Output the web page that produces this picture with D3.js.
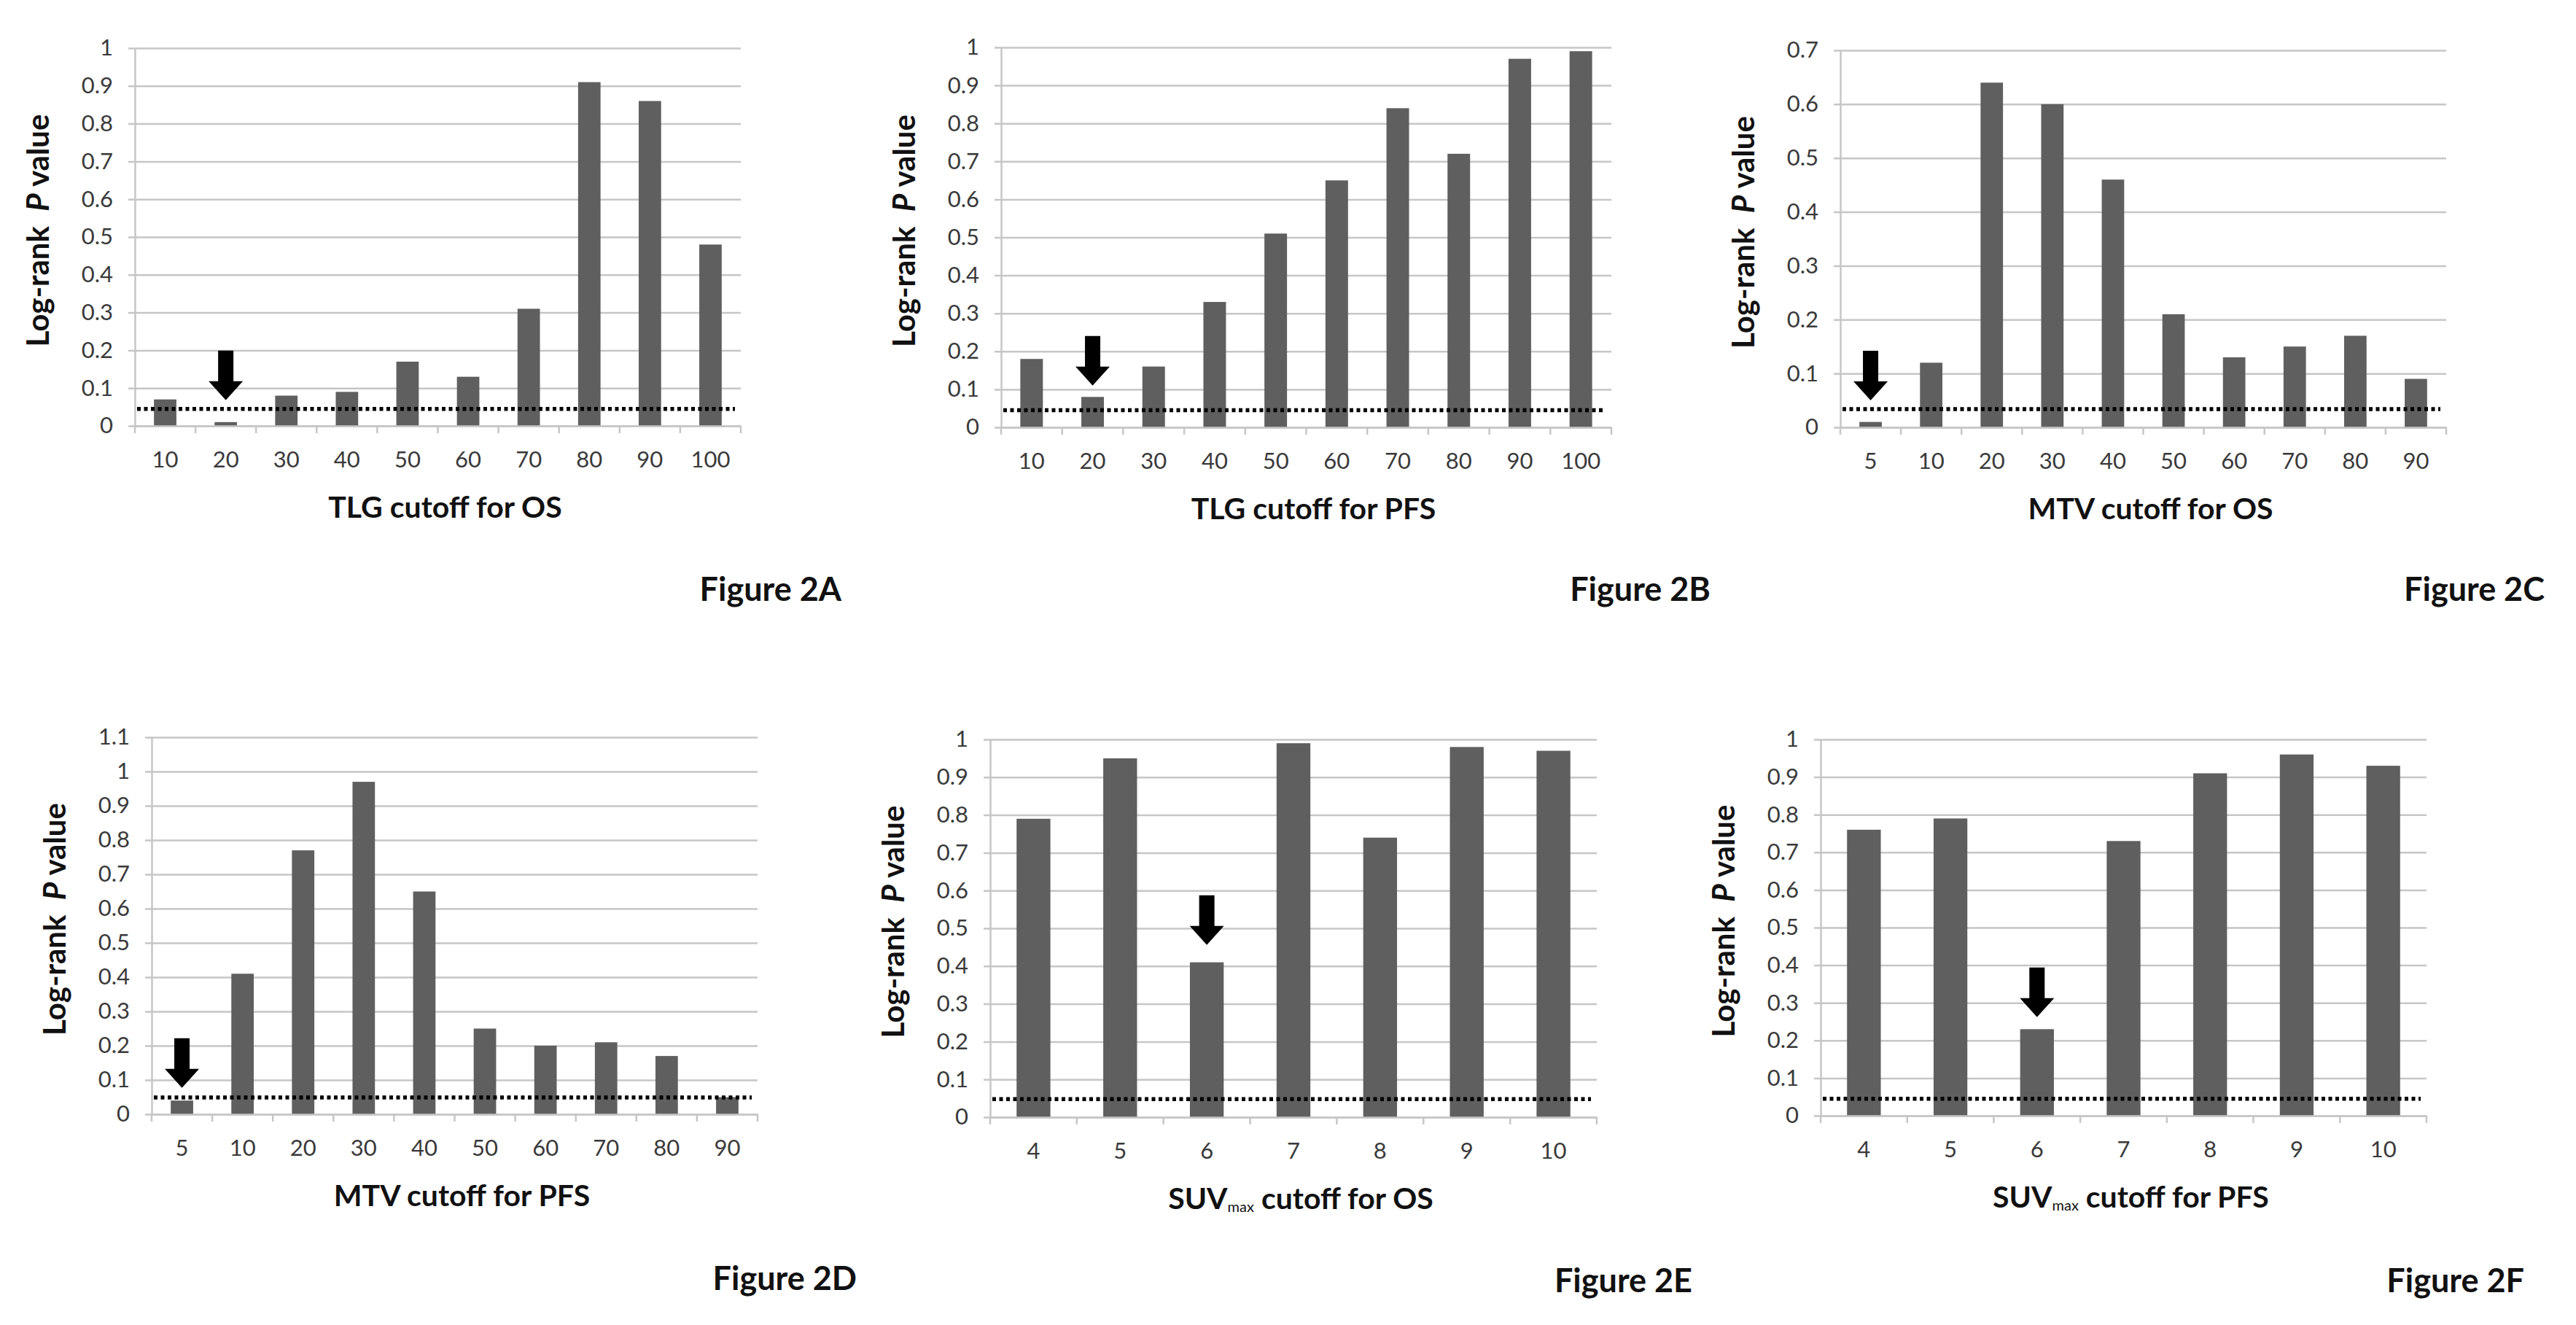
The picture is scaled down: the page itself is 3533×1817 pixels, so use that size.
<!DOCTYPE html>
<html>
<head>
<meta charset="utf-8">
<script src="https://cdn.jsdelivr.net/npm/d3@7"></script>
<style>
  body { margin: 0; background: #fff; }
  svg { display: block; }
</style>
</head>
<body>
<svg id="fig"></svg>
<script>
const W = 3533, H = 1817;

// cutoff categories
const tlgCuts = ["10", "20", "30", "40", "50", "60", "70", "80", "90", "100"];
const mtvCuts = ["5", "10", "20", "30", "40", "50", "60", "70", "80", "90"];
const suvCuts = ["4", "5", "6", "7", "8", "9", "10"];

// log-rank P values
const tlgOS  = [0.07, 0.01, 0.08, 0.09, 0.17, 0.13, 0.31, 0.91, 0.86, 0.48];
const tlgPFS = [0.18, 0.08, 0.16, 0.33, 0.51, 0.65, 0.84, 0.72, 0.97, 0.99];
const mtvOS  = [0.01, 0.12, 0.64, 0.60, 0.46, 0.21, 0.13, 0.15, 0.17, 0.09];
const mtvPFS = [0.04, 0.41, 0.77, 0.97, 0.65, 0.25, 0.20, 0.21, 0.17, 0.05];
const suvOS  = [0.79, 0.95, 0.41, 0.99, 0.74, 0.98, 0.97];
const suvPFS = [0.76, 0.79, 0.23, 0.73, 0.91, 0.96, 0.93];

// per panel: axis max, dotted significance line, arrow position, texts
const yMaxes   = [1, 1, 0.7, 1.1, 1, 1];
const cutLines = [0.045, 0.045, 0.034, 0.049, 0.048, 0.045];
const arrowCat = ["20", "20", "5", "5", "6", "6"];
const arrowTip = [0.068, 0.11, 0.05, 0.077, 0.456, 0.262];
const xTitles  = ["TLG cutoff for OS", "TLG cutoff for PFS", "MTV cutoff for OS",
                  "MTV cutoff for PFS", "SUVmax cutoff for OS", "SUVmax cutoff for PFS"];
const figNames = ["Figure 2A", "Figure 2B", "Figure 2C", "Figure 2D", "Figure 2E", "Figure 2F"];

const panels = [
  {cats: tlgCuts, vals: tlgOS},
  {cats: tlgCuts, vals: tlgPFS},
  {cats: mtvCuts, vals: mtvOS},
  {cats: mtvCuts, vals: mtvPFS},
  {cats: suvCuts, vals: suvOS},
  {cats: suvCuts, vals: suvPFS}
];

// plot frames (axis left/right, top/bottom) and figure-label anchors
const frames = [
  {l: 185,  r: 1016, t: 66,   b: 584,  fx: 1154, fy: 808},
  {l: 1373, r: 2210, t: 65,   b: 586,  fx: 2346, fy: 808},
  {l: 2524, r: 3355, t: 69,   b: 586,  fx: 3490, fy: 808},
  {l: 208,  r: 1039, t: 1011, b: 1528, fx: 1175, fy: 1753},
  {l: 1358, r: 2190, t: 1014, b: 1532, fx: 2321, fy: 1756},
  {l: 2497, r: 3328, t: 1014, b: 1530, fx: 3462, fy: 1756}
];

const FONT = "Lato, 'Open Sans', sans-serif";
const BAR = "#5f5f5f", GRID = "#c6c6c6", TICKTXT = "#3a3a3a";

const svg = d3.select("#fig")
    .attr("width", W)
    .attr("height", H)
    .attr("viewBox", [0, 0, W, H])
    .style("font-family", FONT);

svg.append("rect").attr("width", W).attr("height", H).attr("fill", "#fff");

panels.forEach((p, i) => {
  const f = frames[i];
  const g = svg.append("g");

  const x = d3.scaleBand()
      .domain(p.cats)
      .range([f.l, f.r])
      .padding(0);

  const y = d3.scaleLinear()
      .domain([0, yMaxes[i]])
      .range([f.b, f.t]);

  const ticks = d3.range(0, Math.round(yMaxes[i] * 10) + 1).map(k => k / 10);

  // gridlines + y axis
  const yAxis = d3.axisLeft(y)
      .tickValues(ticks)
      .tickSize(-(f.r - f.l))
      .tickSizeOuter(0)
      .tickFormat(d => String(+d.toFixed(1)));

  g.append("g")
      .attr("transform", `translate(${f.l},0)`)
      .call(yAxis)
      .call(a => a.select(".domain").attr("stroke", GRID).attr("stroke-width", 2.5))
      .call(a => a.selectAll(".tick line")
          .attr("x1", -9)
          .attr("stroke", GRID)
          .attr("stroke-width", 2.5))
      .call(a => a.selectAll(".tick text")
          .attr("x", -30)
          .attr("fill", TICKTXT)
          .attr("font-size", 31)
          .attr("font-family", FONT));

  // bars
  const ratio = p.cats.length > 8 ? 0.37 : 0.39;
  const bw = x.bandwidth() * ratio;
  g.append("g")
    .selectAll("rect")
    .data(p.vals)
    .join("rect")
      .attr("x", (d, j) => x(p.cats[j]) + (x.bandwidth() - bw) / 2)
      .attr("y", d => y(d))
      .attr("width", bw)
      .attr("height", d => y(0) - y(d))
      .attr("fill", BAR);

  // x axis, ticks between categories
  const xAxis = d3.axisBottom(x).tickSize(0).tickSizeOuter(0);
  g.append("g")
      .attr("transform", `translate(0,${f.b})`)
      .call(xAxis)
      .call(a => a.select(".domain").attr("stroke", GRID).attr("stroke-width", 2.5))
      .call(a => a.selectAll(".tick text")
          .attr("y", 46)
          .attr("dy", "0.35em")
          .attr("fill", TICKTXT)
          .attr("font-size", 31)
          .attr("font-family", FONT));

  g.append("g")
    .selectAll("line")
    .data(p.cats.map(c => x(c)).concat([f.r]))
    .join("line")
      .attr("x1", d => d).attr("x2", d => d)
      .attr("y1", f.b).attr("y2", f.b + 10)
      .attr("stroke", GRID)
      .attr("stroke-width", 2.5);

  // dotted significance line
  g.append("line")
      .attr("x1", f.l + 3)
      .attr("x2", f.r - 8)
      .attr("y1", y(cutLines[i]))
      .attr("y2", y(cutLines[i]))
      .attr("stroke", "#000")
      .attr("stroke-width", 5.5)
      .attr("stroke-dasharray", "5 4.5");

  // arrow pointing down at the chosen cutoff
  const cx = x(arrowCat[i]) + x.bandwidth() / 2;
  const ty = y(arrowTip[i]);
  const L = 68, HL = 26, SW = 10.5, HW = 23.5;
  g.append("path")
      .attr("d", d3.line()([
        [cx - SW, ty - L], [cx + SW, ty - L], [cx + SW, ty - HL], [cx + HW, ty - HL],
        [cx, ty], [cx - HW, ty - HL], [cx - SW, ty - HL]
      ]) + "Z")
      .attr("fill", "#000");

  // x title
  const tx = (f.l + f.r) / 2 + 10;
  const title = g.append("text")
      .attr("x", tx)
      .attr("y", f.b + 112)
      .attr("dy", "0.35em")
      .attr("text-anchor", "middle")
      .attr("font-size", 41)
      .attr("font-weight", "bold")
      .attr("fill", "#111");
  if (xTitles[i].startsWith("SUVmax")) {
    title.append("tspan").text("SUV");
    title.append("tspan").attr("font-size", 20).attr("font-weight", "normal").attr("dy", 4).text("max");
    title.append("tspan").attr("dy", -4).text(xTitles[i].slice(6));
  } else {
    title.text(xTitles[i]);
  }

  // y title
  const yl = g.append("text")
      .attr("transform", `translate(${f.l - 133},${(f.t + f.b) / 2 - 9}) rotate(-90)`)
      .attr("text-anchor", "middle")
      .attr("dy", "0.35em")
      .attr("font-size", 42)
      .attr("font-weight", "bold")
      .attr("fill", "#111")
      .style("white-space", "pre");
  yl.append("tspan").text("Log-rank  ");
  yl.append("tspan").attr("font-style", "italic").text("P");
  yl.append("tspan").text(" value");

  // figure label
  g.append("text")
      .attr("x", f.fx)
      .attr("y", f.fy)
      .attr("dy", "0.35em")
      .attr("text-anchor", "end")
      .attr("font-size", 45)
      .attr("font-weight", "bold")
      .attr("fill", "#111")
      .text(figNames[i]);
});
</script>
</body>
</html>
